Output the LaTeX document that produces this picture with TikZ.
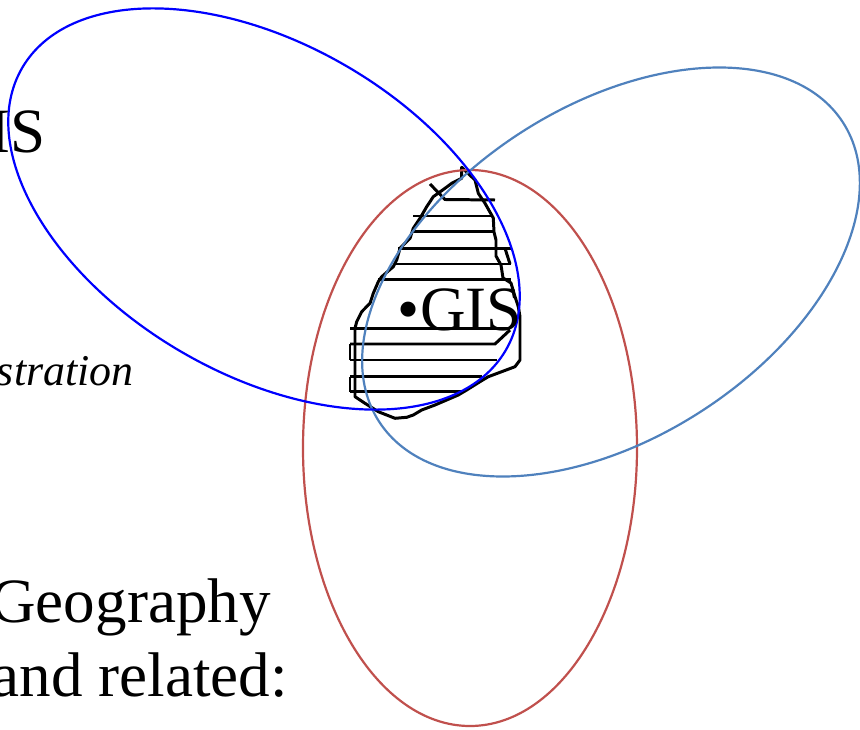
\documentclass[tikz,border=0pt]{standalone}
\usepackage{fontspec}
\setmainfont{Liberation Serif}
\usepackage{xcolor}
\usepackage{tikz}
\definecolor{gisblue}{HTML}{0000FF}
\definecolor{steel}{HTML}{4F81BD}
\definecolor{brick}{HTML}{C0504D}
\tikzset{
  setline/.style={line width=1.25pt},
  outline/.style={draw=black,line width=1.7pt,line join=round},
  hatch/.style={draw=black,line width=1.7pt},
  big/.style={font=\fontsize{35.9}{43}\selectfont,inner sep=0pt},
  small/.style={font=\fontsize{25}{30}\selectfont\itshape,inner sep=0pt},
}
\begin{document}
\begin{tikzpicture}[x=0.02cm,y=-0.02cm]
  \useasboundingbox (0,0) rectangle (860,730);
  \clip (0,0) rectangle (860,730);
  % island with hatching
  \draw[outline] (461.7,167.3) -- (475,180) -- (478.3,193.3) -- (485,203.3) -- (493.3,218) -- (494,232) -- (496,240) -- (496,256) -- (501,265) -- (503,278) -- (511,283) -- (515,296.7) -- (518.3,306.7) -- (520,316.7) -- (520,338) -- (520,360) -- (515,366.7) -- (501.7,371.7) -- (488.3,376.7) -- (480,381.7) -- (466.7,390) -- (458.3,395) -- (435,405) -- (421.7,410) -- (413.3,415) -- (406.7,417.3) -- (395,418.3) -- (378.3,411.7) -- (365,403.3) -- (355,396.7) -- (355,328.3) -- (356.7,321.7) -- (361.7,311.7) -- (370,303.3) -- (373.3,293.3) -- (378.3,281.7) -- (381.7,276.7) -- (393.3,266.7) -- (396.7,260) -- (400,248.3) -- (410,238.3) -- (413.3,228.3) -- (420,218.3) -- (426.7,206.7) -- (433.3,196.7) -- (445,188.3) -- (451.7,183.3) -- (461.7,178.3) -- cycle;
  \draw[hatch] (430,184) -- (445,199.5) -- (495,200);
  \foreach \y/\xa/\xb in {216/413/493, 231.7/411/495, 248.3/398/511, 264/395/511, 279.3/378/511, 328.3/350/510, 360/350/497, 376.7/350/482, 391.7/350/463} {\draw[hatch] (\xa,\y) -- (\xb,\y);}
  \draw[hatch] (350,344) -- (495,344) -- (510,330);
  \draw[hatch] (350,344) -- (350,360);
  \draw[hatch] (350,376.7) -- (350,391.7);
  \draw[hatch] (505,248.3) -- (510,264);
  % the three sets
  \draw[setline,brick] (470,448) ellipse [x radius=167, y radius=278];
  \draw[setline,steel,rotate around={32.8:(611,272)}] (611,272) ellipse [x radius=276, y radius=166];
  \draw[setline,gisblue,rotate around={-30.3:(264,209)}] (264,209) ellipse [x radius=280, y radius=165];
  % labels
  \node[big,anchor=base east] (mis) at (46,153) {IS};
  \node[small,anchor=base east] (admin) at (134,385) {stration};
  \node[big,anchor=base east] (geo) at (271,622) {Geography};
  \node[big,anchor=base east] (related) at (288,696) {and related:};
  \node[big,anchor=base east] (gis) at (522,330) {•GIS};
\end{tikzpicture}
\end{document}
